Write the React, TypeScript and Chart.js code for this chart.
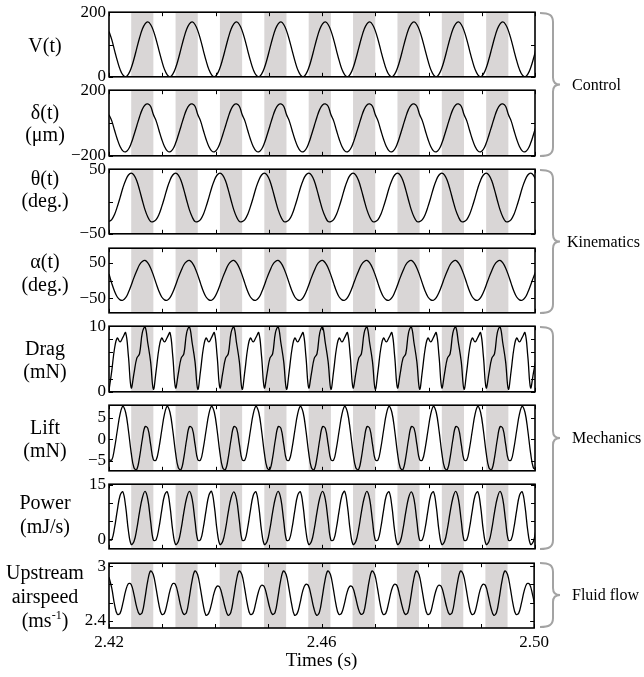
import React, { useEffect, useRef } from 'react';
import { Chart, registerables } from 'chart.js';

Chart.register(...registerables);

const FONT = "'Liberation Serif', 'Times New Roman', serif";

// ---------- data ----------
const sampleTimes = [
  2.42000, 2.42052, 2.42104, 2.42156, 2.42208, 2.42260, 2.42313, 2.42365, 2.42417, 2.42469, 2.42521, 2.42573, 2.42625, 2.42677, 2.42729, 2.42781,
  2.42833, 2.42885, 2.42938, 2.42990, 2.43042, 2.43094, 2.43146, 2.43198, 2.43250, 2.43302, 2.43354, 2.43406, 2.43458, 2.43510, 2.43563, 2.43615,
  2.43667, 2.43719, 2.43771, 2.43823, 2.43875, 2.43927, 2.43979, 2.44031, 2.44083, 2.44135, 2.44188, 2.44240, 2.44292, 2.44344, 2.44396, 2.44448,
  2.44500, 2.44552, 2.44604, 2.44656, 2.44708, 2.44760, 2.44813, 2.44865, 2.44917, 2.44969, 2.45021, 2.45073, 2.45125, 2.45177, 2.45229, 2.45281,
  2.45333, 2.45385, 2.45438, 2.45490, 2.45542, 2.45594, 2.45646, 2.45698, 2.45750, 2.45802, 2.45854, 2.45906, 2.45958, 2.46010, 2.46063, 2.46115,
  2.46167, 2.46219, 2.46271, 2.46323, 2.46375, 2.46427, 2.46479, 2.46531, 2.46583, 2.46635, 2.46688, 2.46740, 2.46792, 2.46844, 2.46896, 2.46948,
  2.47000, 2.47052, 2.47104, 2.47156, 2.47208, 2.47260, 2.47313, 2.47365, 2.47417, 2.47469, 2.47521, 2.47573, 2.47625, 2.47677, 2.47729, 2.47781,
  2.47833, 2.47885, 2.47938, 2.47990, 2.48042, 2.48094, 2.48146, 2.48198, 2.48250, 2.48302, 2.48354, 2.48406, 2.48458, 2.48510, 2.48563, 2.48615,
  2.48667, 2.48719, 2.48771, 2.48823, 2.48875, 2.48927, 2.48979, 2.49031, 2.49083, 2.49135, 2.49188, 2.49240, 2.49292, 2.49344, 2.49396, 2.49448,
  2.49500, 2.49552, 2.49604, 2.49656, 2.49708, 2.49760, 2.49813, 2.49865, 2.49917, 2.49969, 2.50021,
];

const voltage = [
  140, 115, 82, 50, 23, 6, 0, 8, 27, 55, 88, 120, 147, 164, 170, 162,
  143, 115, 82, 50, 23, 6, 0, 8, 27, 55, 88, 120, 147, 164, 170, 162,
  143, 115, 82, 50, 23, 6, 0, 8, 27, 55, 88, 120, 147, 164, 170, 162,
  143, 115, 82, 50, 23, 6, 0, 8, 27, 55, 88, 120, 147, 164, 170, 162,
  143, 115, 82, 50, 23, 6, 0, 8, 27, 55, 88, 120, 147, 164, 170, 162,
  143, 115, 82, 50, 23, 6, 0, 8, 27, 55, 88, 120, 147, 164, 170, 162,
  143, 115, 82, 50, 23, 6, 0, 8, 27, 55, 88, 120, 147, 164, 170, 162,
  143, 115, 82, 50, 23, 6, 0, 8, 27, 55, 88, 120, 147, 164, 170, 162,
  143, 115, 82, 50, 23, 6, 0, 8, 27, 55, 88, 120, 147, 164, 170, 162,
  143, 115, 82, 50, 23, 6, 0, 8, 27, 55, 88,
];

const deflection = [
  50, 13, -44, -99, -143, -170, -176, -160, -124, -73, -18, 37, 83, 110, 116, 102,
  52, 13, -44, -99, -143, -170, -176, -160, -124, -73, -18, 37, 83, 110, 116, 102,
  52, 13, -44, -99, -143, -170, -176, -160, -124, -73, -18, 37, 83, 110, 116, 102,
  52, 13, -44, -99, -143, -170, -176, -160, -124, -73, -18, 37, 83, 110, 116, 102,
  52, 13, -44, -99, -143, -170, -176, -160, -124, -73, -18, 37, 83, 110, 116, 102,
  52, 13, -44, -99, -143, -170, -176, -160, -124, -73, -18, 37, 83, 110, 116, 102,
  52, 13, -44, -99, -143, -170, -176, -160, -124, -73, -18, 37, 83, 110, 116, 102,
  52, 13, -44, -99, -143, -170, -176, -160, -124, -73, -18, 37, 83, 110, 116, 102,
  52, 13, -44, -99, -143, -170, -176, -160, -124, -73, -18, 37, 83, 110, 116, 102,
  52, 13, -44, -99, -143, -170, -176, -160, -124, -73, -18,
];

const strokeAngle = [
  -31, -28, -20, -8, 6, 21, 33, 41, 44, 41, 32, 18, 2, -13, -24, -31,
  -31, -28, -20, -8, 6, 21, 33, 41, 44, 41, 32, 18, 2, -13, -24, -31,
  -31, -28, -20, -8, 6, 21, 33, 41, 44, 41, 32, 18, 2, -13, -24, -31,
  -31, -28, -20, -8, 6, 21, 33, 41, 44, 41, 32, 18, 2, -13, -24, -31,
  -31, -28, -20, -8, 6, 21, 33, 41, 44, 41, 32, 18, 2, -13, -24, -31,
  -31, -28, -20, -8, 6, 21, 33, 41, 44, 41, 32, 18, 2, -13, -24, -31,
  -31, -28, -20, -8, 6, 21, 33, 41, 44, 41, 32, 18, 2, -13, -24, -31,
  -31, -28, -20, -8, 6, 21, 33, 41, 44, 41, 32, 18, 2, -13, -24, -31,
  -31, -28, -20, -8, 6, 21, 33, 41, 44, 41, 32, 18, 2, -13, -24, -31,
  -31, -28, -20, -8, 6, 21, 33, 41, 44, 41, 32,
];

const attackAngle = [
  18, -8, -30, -46, -54, -55, -48, -33, -13, 8, 27, 44, 53, 56, 49, 35,
  15, -8, -30, -46, -54, -55, -48, -33, -13, 8, 27, 44, 53, 56, 49, 35,
  15, -8, -30, -46, -54, -55, -48, -33, -13, 8, 27, 44, 53, 56, 49, 35,
  15, -8, -30, -46, -54, -55, -48, -33, -13, 8, 27, 44, 53, 56, 49, 35,
  15, -8, -30, -46, -54, -55, -48, -33, -13, 8, 27, 44, 53, 56, 49, 35,
  15, -8, -30, -46, -54, -55, -48, -33, -13, 8, 27, 44, 53, 56, 49, 35,
  15, -8, -30, -46, -54, -55, -48, -33, -13, 8, 27, 44, 53, 56, 49, 35,
  15, -8, -30, -46, -54, -55, -48, -33, -13, 8, 27, 44, 53, 56, 49, 35,
  15, -8, -30, -46, -54, -55, -48, -33, -13, 8, 27, 44, 53, 56, 49, 35,
  15, -8, -30, -46, -54, -55, -48, -33, -13, 8, 27,
];

const drag = [
  0.2, 3.2, 6.6, 8.2, 7.6, 8.3, 9.0, 5.4, 0.6, 2.8, 5.1, 5.8, 9.0, 9.9, 7.4, 4.6,
  0.4, 3.2, 6.6, 8.2, 7.6, 8.3, 9.0, 5.4, 0.6, 2.8, 5.1, 5.8, 9.0, 9.9, 7.4, 4.6,
  0.4, 3.2, 6.6, 8.2, 7.6, 8.3, 9.0, 5.4, 0.6, 2.8, 5.1, 5.8, 9.0, 9.9, 7.4, 4.6,
  0.4, 3.2, 6.6, 8.2, 7.6, 8.3, 9.0, 5.4, 0.6, 2.8, 5.1, 5.8, 9.0, 9.9, 7.4, 4.6,
  0.4, 3.2, 6.6, 8.2, 7.6, 8.3, 9.0, 5.4, 0.6, 2.8, 5.1, 5.8, 9.0, 9.9, 7.4, 4.6,
  0.4, 3.2, 6.6, 8.2, 7.6, 8.3, 9.0, 5.4, 0.6, 2.8, 5.1, 5.8, 9.0, 9.9, 7.4, 4.6,
  0.4, 3.2, 6.6, 8.2, 7.6, 8.3, 9.0, 5.4, 0.6, 2.8, 5.1, 5.8, 9.0, 9.9, 7.4, 4.6,
  0.4, 3.2, 6.6, 8.2, 7.6, 8.3, 9.0, 5.4, 0.6, 2.8, 5.1, 5.8, 9.0, 9.9, 7.4, 4.6,
  0.4, 3.2, 6.6, 8.2, 7.6, 8.3, 9.0, 5.4, 0.6, 2.8, 5.1, 5.8, 9.0, 9.9, 7.4, 4.6,
  0.4, 3.2, 6.6, 8.2, 7.6, 8.3, 9.0, 5.4, 0.6, 2.8, 5.1,
];

const lift = [
  -4.8, -4.9, -2.1, 2.0, 5.8, 7.6, 6.2, 2.0, -3.2, -6.7, -7.1, -4.3, -0.1, 2.9, 2.5, -1.2,
  -4.8, -4.9, -2.1, 2.0, 5.8, 7.6, 6.2, 2.0, -3.2, -6.7, -7.1, -4.3, -0.1, 2.9, 2.5, -1.2,
  -4.8, -4.9, -2.1, 2.0, 5.8, 7.6, 6.2, 2.0, -3.2, -6.7, -7.1, -4.3, -0.1, 2.9, 2.5, -1.2,
  -4.8, -4.9, -2.1, 2.0, 5.8, 7.6, 6.2, 2.0, -3.2, -6.7, -7.1, -4.3, -0.1, 2.9, 2.5, -1.2,
  -4.8, -4.9, -2.1, 2.0, 5.8, 7.6, 6.2, 2.0, -3.2, -6.7, -7.1, -4.3, -0.1, 2.9, 2.5, -1.2,
  -4.8, -4.9, -2.1, 2.0, 5.8, 7.6, 6.2, 2.0, -3.2, -6.7, -7.1, -4.3, -0.1, 2.9, 2.5, -1.2,
  -4.8, -4.9, -2.1, 2.0, 5.8, 7.6, 6.2, 2.0, -3.2, -6.7, -7.1, -4.3, -0.1, 2.9, 2.5, -1.2,
  -4.8, -4.9, -2.1, 2.0, 5.8, 7.6, 6.2, 2.0, -3.2, -6.7, -7.1, -4.3, -0.1, 2.9, 2.5, -1.2,
  -4.8, -4.9, -2.1, 2.0, 5.8, 7.6, 6.2, 2.0, -3.2, -6.7, -7.1, -4.3, -0.1, 2.9, 2.5, -1.2,
  -4.8, -4.9, -2.1, 2.0, 5.8, 7.6, 6.2, 2.0, -3.2, -6.7, -7.1,
];

const power = [
  -0.2, -0.1, 3.2, 8.0, 12.1, 13.1, 9.0, 2.3, -1.4, -0.6, 2.8, 7.5, 11.4, 13.2, 11.0, 5.1,
  -0.2, -0.1, 3.2, 8.0, 12.1, 13.1, 9.0, 2.3, -1.4, -0.6, 2.8, 7.5, 11.4, 13.2, 11.0, 5.1,
  -0.2, -0.1, 3.2, 8.0, 12.1, 13.2, 9.0, 2.3, -1.4, -0.6, 2.8, 7.5, 11.4, 13.1, 11.0, 5.1,
  -0.2, -0.1, 3.2, 8.0, 12.1, 13.1, 9.0, 2.3, -1.4, -0.6, 2.8, 7.5, 11.4, 13.2, 11.0, 5.1,
  -0.2, -0.1, 3.2, 8.0, 12.1, 13.1, 9.0, 2.3, -1.4, -0.6, 2.8, 7.5, 11.4, 13.2, 11.0, 5.1,
  -0.2, -0.1, 3.2, 8.0, 12.1, 13.2, 9.0, 2.3, -1.4, -0.6, 2.8, 7.5, 11.4, 13.2, 11.0, 5.1,
  -0.2, -0.1, 3.2, 8.0, 12.1, 13.1, 9.0, 2.3, -1.4, -0.6, 2.8, 7.5, 11.4, 13.1, 11.0, 5.1,
  -0.2, -0.1, 3.2, 8.0, 12.1, 13.1, 9.0, 2.3, -1.4, -0.6, 2.8, 7.5, 11.4, 13.2, 11.0, 5.1,
  -0.2, -0.1, 3.2, 8.0, 12.1, 13.1, 9.0, 2.3, -1.4, -0.6, 2.8, 7.5, 11.4, 13.2, 11.0, 5.1,
  -0.2, -0.1, 3.2, 8.0, 12.1, 13.1, 9.0, 2.3, -1.4, -0.6, 2.8,
];

const airspeed = [
  2.88, 2.76, 2.58, 2.47, 2.48, 2.59, 2.73, 2.81, 2.80, 2.69, 2.55, 2.47, 2.49, 2.65, 2.84, 2.95,
  2.91, 2.76, 2.58, 2.47, 2.48, 2.59, 2.73, 2.81, 2.80, 2.69, 2.55, 2.47, 2.49, 2.65, 2.84, 2.95,
  2.91, 2.76, 2.58, 2.46, 2.48, 2.58, 2.71, 2.78, 2.77, 2.67, 2.54, 2.46, 2.49, 2.65, 2.84, 2.95,
  2.91, 2.76, 2.58, 2.47, 2.48, 2.59, 2.72, 2.79, 2.78, 2.68, 2.55, 2.47, 2.49, 2.65, 2.84, 2.95,
  2.91, 2.76, 2.58, 2.46, 2.48, 2.59, 2.73, 2.80, 2.79, 2.68, 2.54, 2.46, 2.49, 2.65, 2.84, 2.95,
  2.91, 2.76, 2.58, 2.47, 2.48, 2.58, 2.71, 2.78, 2.77, 2.67, 2.54, 2.47, 2.49, 2.65, 2.84, 2.95,
  2.91, 2.76, 2.58, 2.47, 2.48, 2.59, 2.73, 2.80, 2.79, 2.68, 2.55, 2.47, 2.49, 2.65, 2.84, 2.95,
  2.91, 2.76, 2.58, 2.47, 2.48, 2.59, 2.72, 2.79, 2.78, 2.68, 2.55, 2.47, 2.49, 2.65, 2.84, 2.95,
  2.91, 2.76, 2.58, 2.47, 2.48, 2.59, 2.73, 2.80, 2.79, 2.68, 2.54, 2.46, 2.49, 2.65, 2.84, 2.95,
  2.91, 2.76, 2.58, 2.47, 2.48, 2.59, 2.73, 2.81, 2.80, 2.69, 2.55,
];

// shaded half-strokes
const bandStarts = [2.42417, 2.43250, 2.44083, 2.44917, 2.45750, 2.46583, 2.47417, 2.48250, 2.49083];
const bandEnds = [2.42833, 2.43667, 2.44500, 2.45333, 2.46167, 2.47000, 2.47833, 2.48667, 2.49500];

// x ticks
const timeTicks = [2.42, 2.43, 2.44, 2.45, 2.46, 2.47, 2.48, 2.49, 2.50];
const timeTickLabels = ['2.42', '', '', '', '2.46', '', '', '', '2.50'];
const timeAxisTitle = 'Times (s)';

// y ticks
const vTicks = [0, 100, 200];
const vTickLabels = ['0', '', '200'];
const deflTicks = [-200, 0, 200];
const deflTickLabels = ['\u2212200', '', '200'];
const strokeTicks = [-50, 0, 50];
const strokeTickLabels = ['\u221250', '', '50'];
const attackTicks = [-50, 0, 50];
const attackTickLabels = ['\u221250', '', '50'];
const dragTicks = [0, 2, 4, 6, 8, 10];
const dragTickLabels = ['0', '', '', '', '', '10'];
const liftTicks = [-5, 0, 5];
const liftTickLabels = ['\u22125', '0', '5'];
const powerTicks = [0, 5, 10, 15];
const powerTickLabels = ['0', '', '', '15'];
const airTicks = [2.4, 2.6, 2.8, 3.0];
const airTickLabels = ['2.4', '', '', '3'];

// ---------- layout ----------
const PLOT_LEFT = 109;
const CANVAS_W = 553;
const PAD_RIGHT = 18;
const PAD_V = 12;
const X_AXIS_H = 46;

const panels = [
  { values: voltage, min: 0, max: 200, ticks: vTicks, labels: vTickLabels, top: 11, bottom: 78 },
  { values: deflection, min: -200, max: 200, ticks: deflTicks, labels: deflTickLabels, top: 89, bottom: 157 },
  { values: strokeAngle, min: -50, max: 50, ticks: strokeTicks, labels: strokeTickLabels, top: 168, bottom: 235 },
  { values: attackAngle, min: -90, max: 90, ticks: attackTicks, labels: attackTickLabels, top: 247, bottom: 314 },
  { values: drag, min: 0, max: 10, ticks: dragTicks, labels: dragTickLabels, top: 325, bottom: 393 },
  { values: lift, min: -7.4, max: 7.9, ticks: liftTicks, labels: liftTickLabels, top: 404, bottom: 472 },
  { values: power, min: -2.6, max: 15.2, ticks: powerTicks, labels: powerTickLabels, top: 483, bottom: 550 },
  { values: airspeed, min: 2.318, max: 3.036, ticks: airTicks, labels: airTickLabels, top: 562, bottom: 628 },
];

const leftLabels: { text: React.ReactNode; y: number }[] = [
  { text: 'V(t)', y: 45 },
  { text: '\u03b4(t)', y: 112 },
  { text: '(\u03bcm)', y: 134 },
  { text: '\u03b8(t)', y: 178 },
  { text: '(deg.)', y: 200 },
  { text: '\u03b1(t)', y: 261 },
  { text: '(deg.)', y: 284 },
  { text: 'Drag', y: 348 },
  { text: '(mN)', y: 371 },
  { text: 'Lift', y: 427 },
  { text: '(mN)', y: 450 },
  { text: 'Power', y: 502 },
  { text: '(mJ/s)', y: 526 },
  { text: 'Upstream', y: 572 },
  { text: 'airspeed', y: 596 },
  { text: (<span>(ms<sup style={{ fontSize: 12, verticalAlign: 'top', lineHeight: '14px' }}>-1</sup>)</span>), y: 620 },
];

const groups = [
  { name: 'Control', y1: 13, y2: 156, left: 572 },
  { name: 'Kinematics', y1: 170, y2: 313, left: 567 },
  { name: 'Mechanics', y1: 327, y2: 549, left: 572 },
  { name: 'Fluid flow', y1: 563, y2: 627, left: 572 },
];

function bracePath(y1: number, y2: number) {
  const x0 = 540, xv = 553, xp = 560, ym = (y1 + y2) / 2;
  return `M${x0},${y1} C${xv - 4},${y1} ${xv},${y1 + 2} ${xv},${y1 + 9} L${xv},${ym - 7} C${xv},${ym - 2} ${xv + 3},${ym} ${xp},${ym} C${xv + 3},${ym} ${xv},${ym + 2} ${xv},${ym + 7} L${xv},${y2 - 9} C${xv},${y2 - 2} ${xv - 4},${y2} ${x0},${y2}`;
}

function PanelChart({ p, last }: { p: any; last: boolean }) {
  const ref = useRef<HTMLCanvasElement>(null);
  const h = PAD_V + (p.bottom - p.top) + (last ? X_AXIS_H : PAD_V);
  useEffect(() => {
    const deco = {
      id: 'panelDeco',
      beforeDatasetsDraw(chart: any) {
        const { ctx, chartArea: a, scales } = chart;
        const x = scales.x;
        ctx.save();
        ctx.fillStyle = '#d9d6d6';
        bandStarts.forEach((s, i) => {
          const x1 = x.getPixelForValue(s);
          const x2 = x.getPixelForValue(bandEnds[i]);
          ctx.fillRect(x1, a.top, x2 - x1, a.bottom - a.top);
        });
        ctx.restore();
      },
      afterDatasetsDraw(chart: any) {
        const { ctx, chartArea: a, scales } = chart;
        const x = scales.x, y = scales.y;
        ctx.save();
        ctx.strokeStyle = '#000';
        ctx.lineWidth = 1;
        ctx.beginPath();
        timeTicks.forEach((v) => {
          const px = Math.round(x.getPixelForValue(v)) + 0.5;
          ctx.moveTo(px, a.top); ctx.lineTo(px, a.top + 4);
          ctx.moveTo(px, a.bottom); ctx.lineTo(px, a.bottom - 4);
        });
        p.ticks.forEach((v: number) => {
          const py = Math.round(y.getPixelForValue(v)) + 0.5;
          ctx.moveTo(a.left, py); ctx.lineTo(a.left + 4, py);
          ctx.moveTo(a.right, py); ctx.lineTo(a.right - 4, py);
        });
        ctx.stroke();
        ctx.lineWidth = 1.6;
        ctx.strokeRect(a.left, a.top, a.right - a.left, a.bottom - a.top);
        ctx.restore();
      },
    };
    const chart = new Chart(ref.current as HTMLCanvasElement, {
      type: 'line',
      data: {
        datasets: [{
          data: sampleTimes.map((t, i) => ({ x: t, y: p.values[i] })),
          borderColor: '#000',
          borderWidth: 1.3,
          pointRadius: 0,
          tension: 0.4,
          fill: false,
        }],
      },
      options: {
        responsive: false,
        animation: false,
        events: [],
        layout: { padding: { top: PAD_V, bottom: last ? 0 : PAD_V, left: 0, right: PAD_RIGHT } },
        plugins: { legend: { display: false }, tooltip: { enabled: false } },
        scales: {
          x: {
            type: 'linear',
            min: 2.42,
            max: 2.50,
            display: last,
            afterBuildTicks: (s: any) => { s.ticks = timeTicks.map((v) => ({ value: v })); },
            afterFit: (s: any) => { s.height = last ? X_AXIS_H : 0; },
            ticks: {
              autoSkip: false,
              maxRotation: 0,
              padding: 4,
              color: '#000',
              font: { family: FONT, size: 17 },
              callback: (_v: any, i: number) => timeTickLabels[i],
            },
            grid: { display: false, drawTicks: false },
            border: { display: false },
            title: { display: true, text: timeAxisTitle, color: '#000', font: { family: FONT, size: 19 }, padding: { top: 0, bottom: 2 } },
          },
          y: {
            type: 'linear',
            min: p.min,
            max: p.max,
            afterBuildTicks: (s: any) => { s.ticks = p.ticks.map((v: number) => ({ value: v })); },
            afterFit: (s: any) => { s.width = PLOT_LEFT; },
            ticks: {
              autoSkip: false,
              padding: 3,
              color: '#000',
              font: { family: FONT, size: 17 },
              callback: (_v: any, i: number) => p.labels[i],
            },
            grid: { display: false, drawTicks: false },
            border: { display: false },
          },
        },
      },
      plugins: [deco],
    } as any);
    return () => chart.destroy();
  }, []);
  return (
    <canvas
      ref={ref}
      width={CANVAS_W}
      height={h}
      style={{ position: 'absolute', left: 0, top: p.top - PAD_V, width: CANVAS_W, height: h }}
    />
  );
}

export default function App() {
  return (
    <div style={{ position: 'absolute', left: 0, top: 0, width: 644, height: 677, background: '#fff', overflow: 'hidden', fontFamily: FONT, color: '#000' }}>
      {panels.map((p, i) => (
        <PanelChart key={i} p={p} last={i === panels.length - 1} />
      ))}
      {leftLabels.map((l, i) => (
        <div key={'l' + i} style={{ position: 'absolute', left: -15, width: 120, top: l.y - 12, height: 24, lineHeight: '24px', textAlign: 'center', fontSize: 20, whiteSpace: 'nowrap' }}>
          {l.text}
        </div>
      ))}
      <svg width={644} height={677} style={{ position: 'absolute', left: 0, top: 0, pointerEvents: 'none' }}>
        {groups.map((g, i) => (
          <path key={i} d={bracePath(g.y1, g.y2)} fill="none" stroke="#a3a3a3" strokeWidth={2} />
        ))}
      </svg>
      {groups.map((g, i) => (
        <div key={'g' + i} style={{ position: 'absolute', left: g.left, top: (g.y1 + g.y2) / 2 - 11, height: 22, lineHeight: '22px', fontSize: 16, whiteSpace: 'nowrap' }}>
          {g.name}
        </div>
      ))}
    </div>
  );
}
